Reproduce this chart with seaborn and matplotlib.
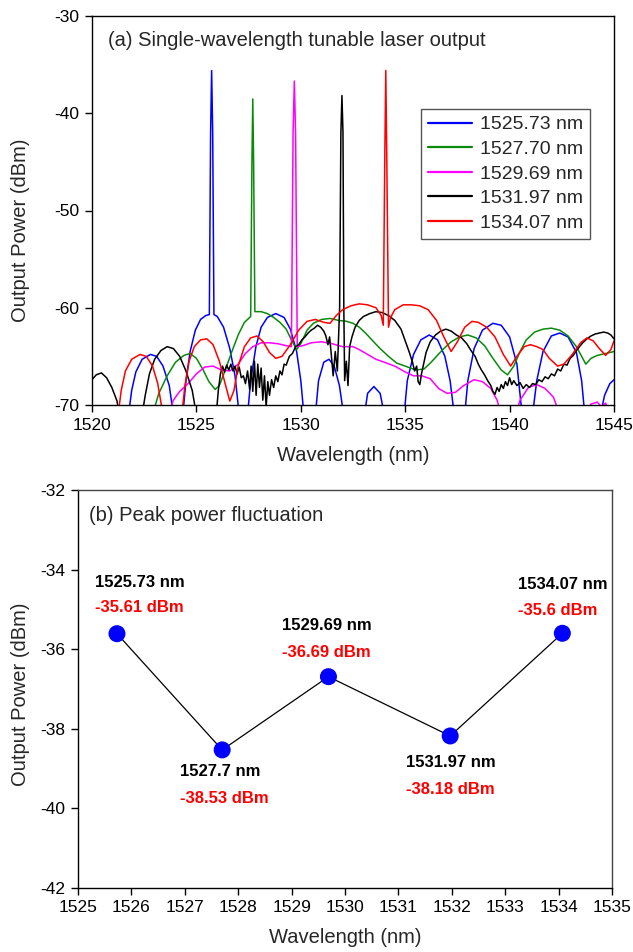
import numpy as np
import pandas as pd
import matplotlib
matplotlib.use("Agg")
import matplotlib.pyplot as plt
import seaborn as sns

# (a) spectra: (wavelength nm, power dBm); -71 = below the axis
blue_pts = [
    (1521.75, -71), (1521.9, -68.5), (1522.1, -66.6), (1522.4, -65.3), (1522.8, -64.8), (1523.1, -65.0),
    (1523.4, -66.0), (1523.7, -68.0), (1523.9, -71),
    (1524.35, -71), (1524.5, -67.5), (1524.7, -64.5), (1524.95, -62.3), (1525.2, -61.2), (1525.45, -60.8),
    (1525.62, -60.7), (1525.68, -42), (1525.73, -35.61), (1525.78, -42), (1525.84, -60.7), (1526.0, -60.9),
    (1526.3, -62.0), (1526.6, -64.2), (1526.85, -67.0), (1527.05, -71),
    (1527.45, -71), (1527.6, -67.5), (1527.85, -64.0), (1528.1, -62.0), (1528.4, -61.0), (1528.8, -60.6),
    (1529.2, -61.0), (1529.5, -62.2), (1529.8, -64.5), (1530.0, -67.5), (1530.15, -71),
    (1530.7, -71), (1530.85, -67.5), (1531.1, -65.6), (1531.35, -65.3), (1531.6, -66.0), (1531.85, -68.0),
    (1532.05, -71),
    (1533.05, -71), (1533.2, -68.8), (1533.5, -68.1), (1533.8, -68.8), (1534.0, -71),
    (1534.95, -71), (1535.1, -67.5), (1535.4, -64.8), (1535.75, -63.3), (1536.15, -62.8), (1536.55, -63.3),
    (1536.9, -65.0), (1537.15, -67.5), (1537.35, -71),
    (1537.85, -71), (1538.0, -67.5), (1538.3, -64.2), (1538.7, -62.3), (1539.2, -61.6), (1539.6, -61.8),
    (1540.0, -63.0), (1540.35, -65.8), (1540.6, -71),
    (1541.1, -71), (1541.3, -67.5), (1541.6, -64.5), (1542.0, -62.9), (1542.4, -62.6), (1542.8, -63.0),
    (1543.2, -64.6), (1543.45, -67.5), (1543.6, -71),
    (1544.35, -71), (1544.55, -69.0), (1544.8, -67.8), (1545.0, -67.4),
]
green_pts = [
    (1522.9, -71), (1523.2, -68.8), (1523.6, -67.0), (1524.0, -65.6), (1524.4, -64.9), (1524.7, -64.7),
    (1525.0, -65.2), (1525.3, -66.3), (1525.6, -67.6), (1525.9, -68.4), (1526.1, -68.0), (1526.4, -66.3),
    (1526.7, -64.5), (1527.0, -62.8), (1527.3, -61.5), (1527.6, -60.9), (1527.66, -45), (1527.7, -38.53),
    (1527.74, -45), (1527.8, -60.4), (1528.1, -60.4), (1528.4, -60.6), (1528.7, -61.0), (1529.0, -61.5),
    (1529.3, -62.2), (1529.55, -63.3), (1529.8, -64.3), (1530.0, -63.7), (1530.3, -62.3), (1530.6, -61.6),
    (1531.0, -61.2), (1531.4, -61.1), (1531.8, -61.3), (1532.2, -61.4), (1532.5, -61.6), (1532.8, -62.0),
    (1533.1, -62.6), (1533.4, -63.3), (1533.8, -64.2), (1534.2, -65.0), (1534.6, -65.7), (1535.0, -66.0),
    (1535.5, -66.4), (1535.9, -66.3), (1536.2, -65.7), (1536.5, -65.0), (1536.8, -64.3), (1537.2, -63.5),
    (1537.6, -63.0), (1538.0, -62.8), (1538.4, -63.1), (1538.8, -63.9), (1539.2, -65.2), (1539.6, -66.4),
    (1539.9, -66.9), (1540.2, -66.0), (1540.5, -64.5), (1540.8, -63.3), (1541.2, -62.5), (1541.6, -62.2),
    (1542.0, -62.1), (1542.4, -62.3), (1542.8, -62.9), (1543.2, -64.0), (1543.5, -65.2), (1543.65, -65.8),
    (1543.9, -65.2), (1544.2, -64.9), (1544.6, -64.7), (1545.0, -64.5),
]
magenta_pts = [
    (1523.65, -71), (1523.9, -69.5), (1524.2, -68.6), (1524.6, -67.8), (1525.0, -66.8), (1525.4, -66.1),
    (1525.8, -66.0), (1526.2, -66.4), (1526.6, -66.5), (1527.0, -65.8), (1527.35, -64.7), (1527.7, -64.0),
    (1528.1, -63.6), (1528.5, -63.6), (1528.9, -63.7), (1529.3, -63.9), (1529.55, -64.0), (1529.63, -42),
    (1529.69, -36.69), (1529.75, -42), (1529.83, -64.0), (1530.1, -63.9), (1530.5, -63.6), (1531.0, -63.5),
    (1531.5, -63.7), (1532.0, -64.0), (1532.5, -64.0), (1532.8, -64.3), (1533.2, -64.8), (1533.6, -65.3),
    (1534.0, -65.6), (1534.5, -66.0), (1535.0, -66.6), (1535.4, -67.0), (1535.8, -67.0), (1536.2, -67.3),
    (1536.6, -68.3), (1537.0, -68.8), (1537.4, -68.7), (1537.8, -68.0), (1538.3, -67.4), (1538.7, -67.6),
    (1539.1, -68.3), (1539.4, -69.5), (1539.6, -71),
    (1540.3, -71), (1540.5, -69.5), (1540.9, -68.2), (1541.3, -67.9), (1541.7, -68.3), (1542.1, -69.2),
    (1542.4, -71),
    (1543.7, -71), (1543.9, -69.9), (1544.2, -69.7), (1544.4, -70.2), (1544.6, -69.8), (1544.8, -71),
]
black_pts = [
    (1520.0, -67.4), (1520.2, -66.9), (1520.45, -66.7), (1520.7, -67.2), (1520.95, -68.2), (1521.2, -69.6),
    (1521.3, -71),
    (1522.4, -71), (1522.55, -69.0), (1522.75, -66.8), (1523.0, -65.3), (1523.3, -64.4), (1523.6, -64.0),
    (1523.9, -64.2), (1524.2, -65.0), (1524.5, -66.5), (1524.8, -68.5), (1525.0, -71),
    (1525.95, -71), (1526.05, -68.5), (1526.15, -66.8), (1526.25, -66.0), (1526.35, -66.6), (1526.45, -65.9),
    (1526.55, -66.4), (1526.65, -65.8), (1526.75, -66.5), (1526.85, -66.0), (1526.95, -66.8), (1527.05, -66.1),
    (1527.15, -67.2), (1527.25, -67.0), (1527.35, -67.8), (1527.45, -66.5), (1527.55, -68.4), (1527.62, -66.0),
    (1527.7, -68.6), (1527.78, -65.5), (1527.86, -69.0), (1527.94, -65.8), (1528.02, -68.2), (1528.1, -66.2),
    (1528.18, -69.5), (1528.26, -67.0), (1528.34, -70.2), (1528.42, -67.6), (1528.5, -69.0), (1528.6, -67.4),
    (1528.7, -68.2), (1528.8, -67.0), (1528.9, -67.6), (1529.0, -66.5), (1529.1, -66.9), (1529.2, -65.8),
    (1529.3, -65.9), (1529.45, -65.0), (1529.6, -64.7), (1529.75, -64.0), (1529.9, -63.8), (1530.05, -63.3),
    (1530.2, -63.0), (1530.35, -62.6), (1530.5, -62.3), (1530.65, -62.1), (1530.8, -61.8), (1530.95, -62.0),
    (1531.1, -62.4), (1531.2, -62.9), (1531.3, -63.8), (1531.38, -63.0), (1531.46, -64.8), (1531.55, -67.0),
    (1531.65, -64.5), (1531.75, -66.5), (1531.86, -60.0), (1531.92, -42), (1531.97, -38.18), (1532.02, -42),
    (1532.06, -60.0), (1532.1, -67.5), (1532.18, -65.5), (1532.26, -68.0), (1532.34, -64.0), (1532.45, -63.0),
    (1532.6, -62.0), (1532.8, -61.3), (1533.0, -60.9), (1533.3, -60.6), (1533.6, -60.4), (1533.9, -60.5),
    (1534.2, -60.8), (1534.5, -61.3), (1534.8, -62.2), (1535.0, -63.4), (1535.2, -64.6), (1535.35, -65.6),
    (1535.45, -66.5), (1535.55, -66.0), (1535.62, -67.6), (1535.7, -67.9), (1535.78, -66.8), (1535.86, -66.0),
    (1536.0, -64.6), (1536.2, -63.5), (1536.45, -62.8), (1536.7, -62.4), (1536.95, -62.2), (1537.2, -62.4),
    (1537.45, -62.8), (1537.7, -63.1), (1537.95, -63.7), (1538.15, -64.4), (1538.35, -65.0), (1538.5, -65.8),
    (1538.65, -66.4), (1538.8, -66.9), (1538.95, -67.5), (1539.1, -68.0), (1539.2, -68.6), (1539.3, -68.9),
    (1539.4, -68.2), (1539.5, -68.6), (1539.6, -67.9), (1539.7, -68.3), (1539.8, -67.6), (1539.9, -68.0),
    (1540.0, -67.2), (1540.1, -67.9), (1540.2, -67.5), (1540.35, -68.0), (1540.5, -67.7), (1540.65, -68.3),
    (1540.8, -67.9), (1540.95, -68.2), (1541.1, -67.8), (1541.25, -67.9), (1541.4, -67.4), (1541.55, -67.6),
    (1541.7, -67.1), (1541.85, -67.3), (1542.0, -66.8), (1542.15, -67.0), (1542.3, -66.3), (1542.45, -66.5),
    (1542.6, -65.8), (1542.75, -65.9), (1542.9, -65.2), (1543.05, -64.9), (1543.2, -64.4), (1543.35, -64.0),
    (1543.5, -63.6), (1543.7, -63.2), (1543.9, -62.9), (1544.1, -62.7), (1544.3, -62.6), (1544.5, -62.5),
    (1544.7, -62.6), (1544.85, -62.8), (1545.0, -63.2),
]
red_pts = [
    (1521.25, -71), (1521.4, -68.5), (1521.6, -66.5), (1521.9, -65.3), (1522.3, -64.8), (1522.6, -65.0),
    (1522.9, -66.0), (1523.15, -67.8), (1523.4, -71),
    (1524.3, -71), (1524.45, -68.0), (1524.65, -65.5), (1524.9, -64.0), (1525.2, -63.3), (1525.5, -63.2),
    (1525.8, -63.8), (1526.1, -65.5), (1526.4, -68.0), (1526.6, -69.6), (1526.8, -68.5), (1527.0, -66.0),
    (1527.3, -64.0), (1527.6, -63.1), (1527.9, -62.9), (1528.2, -63.5), (1528.5, -64.6), (1528.8, -65.2),
    (1529.1, -65.0), (1529.5, -63.8), (1529.9, -62.3), (1530.3, -61.4), (1530.7, -61.2), (1531.1, -61.5),
    (1531.4, -61.6), (1531.7, -60.8), (1532.0, -60.2), (1532.4, -59.8), (1532.8, -59.6), (1533.2, -59.7),
    (1533.6, -60.0), (1533.85, -60.8), (1533.95, -61.8), (1534.02, -45), (1534.07, -35.6), (1534.12, -45),
    (1534.2, -62.0), (1534.3, -61.0), (1534.5, -60.2), (1534.9, -59.7), (1535.3, -59.7), (1535.7, -59.8),
    (1536.1, -60.2), (1536.5, -61.3), (1536.85, -63.0), (1537.2, -64.5), (1537.5, -63.5), (1537.85, -62.0),
    (1538.2, -61.4), (1538.5, -61.5), (1538.9, -62.0), (1539.3, -63.0), (1539.7, -64.8), (1540.05, -66.0),
    (1540.35, -65.0), (1540.7, -64.0), (1541.0, -63.8), (1541.3, -64.0), (1541.6, -64.3), (1541.9, -65.2),
    (1542.3, -66.0), (1542.6, -65.8), (1543.0, -64.8), (1543.4, -63.6), (1543.7, -63.1), (1544.0, -63.4),
    (1544.3, -64.2), (1544.6, -64.9), (1544.85, -64.3), (1545.0, -63.4),
]
series_names = ["1525.73 nm", "1527.70 nm", "1529.69 nm", "1531.97 nm", "1534.07 nm"]
series_pts = [blue_pts, green_pts, magenta_pts, black_pts, red_pts]
series_colors = ["#0000ff", "#0a8a0a", "#ff00ff", "#000000", "#ff0000"]

# (b) peak power
peak_wl = [1525.73, 1527.70, 1529.69, 1531.97, 1534.07]
peak_dbm = [-35.61, -38.53, -36.69, -38.18, -35.60]
peak_wl_txt = ["1525.73 nm", "1527.7 nm", "1529.69 nm", "1531.97 nm", "1534.07 nm"]
peak_dbm_txt = ["-35.61 dBm", "-38.53 dBm", "-36.69 dBm", "-38.18 dBm", "-35.6 dBm"]

rows = []
for name, pts in zip(series_names, series_pts):
    for wl, p in pts:
        rows.append((name, wl, p))
spec = pd.DataFrame(rows, columns=["laser", "wl", "dbm"])
peaks = pd.DataFrame({"wl": peak_wl, "dbm": peak_dbm})

sns.set_theme(style="ticks")
plt.rcParams["font.family"] = ["Liberation Sans", "DejaVu Sans"]
plt.rcParams["axes.unicode_minus"] = False
plt.rcParams["axes.linewidth"] = 1.0
plt.rcParams["xtick.major.size"] = 5
plt.rcParams["ytick.major.size"] = 5
plt.rcParams["xtick.major.width"] = 1.0
plt.rcParams["ytick.major.width"] = 1.0

fig = plt.figure(figsize=(6.33, 9.52), dpi=100)
ax1 = fig.add_axes([92 / 633, 1 - 405 / 952, 522 / 633, 389 / 952])
ax2 = fig.add_axes([78 / 633, 1 - 888 / 952, 534 / 633, 398 / 952])

# ---- (a) ----
sns.lineplot(data=spec, x="wl", y="dbm", hue="laser", hue_order=series_names,
             palette=series_colors, estimator=None, sort=False, lw=1.1, ax=ax1)
ax1.set_xlim(1520, 1545)
ax1.set_ylim(-70, -30)
ax1.set_xticks([1520, 1525, 1530, 1535, 1540, 1545])
ax1.set_yticks([-70, -60, -50, -40, -30])
ax1.tick_params(labelsize=12.5, colors="black", pad=4)
ax1.set_xlabel("Wavelength (nm)", fontsize=14.5)
ax1.set_ylabel("Output Power (dBm)", fontsize=14.5)
ax1.xaxis.set_label_coords(0.5, -0.105)
ax1.yaxis.set_label_coords(-0.119, 0.45)
ax1.text(0.031, 0.938, "(a) Single-wavelength tunable laser output", transform=ax1.transAxes,
         fontsize=14.5, va="center", ha="left")
for s in ax1.spines.values():
    s.set_color("black")
leg = ax1.legend(loc="upper left", bbox_to_anchor=(0.630, 0.761), fontsize=14, frameon=True,
                 fancybox=False, framealpha=1, edgecolor="#555555", handlelength=2.3,
                 handletextpad=0.4, labelspacing=0.36, borderpad=0.35, borderaxespad=0)
leg.get_frame().set_linewidth(1.0)
for ln in leg.get_lines():
    ln.set_linewidth(1.6)

# ---- (b) ----
sns.lineplot(data=peaks, x="wl", y="dbm", color="black", lw=0.9, ax=ax2, zorder=2)
sns.scatterplot(data=peaks, x="wl", y="dbm", color="#0000ff", s=150, edgecolor="none", ax=ax2, zorder=3)
ax2.set_xlim(1525, 1535)
ax2.set_ylim(-42, -32)
ax2.set_xticks(np.arange(1525, 1536, 1))
ax2.set_yticks([-42, -40, -38, -36, -34, -32])
ax2.tick_params(labelsize=12.5, colors="black", pad=4)
ax2.set_xlabel("Wavelength (nm)", fontsize=14.5)
ax2.set_ylabel("Output Power (dBm)", fontsize=14.5)
ax2.xaxis.set_label_coords(0.5, -0.1)
ax2.yaxis.set_label_coords(-0.09, 0.487)
ax2.text(0.021, 0.937, "(b) Peak power fluctuation", transform=ax2.transAxes,
         fontsize=14.5, va="center", ha="left")
ax2.spines["left"].set_color("black")
ax2.spines["bottom"].set_color("black")
ax2.spines["top"].set_color("#444444")
ax2.spines["right"].set_color("#444444")

# label offsets in pixels from each point: (dx, dy_name, dy_value)
label_offsets = [(-22, 51, 26), (-42, -22, -49), (-46, 51, 24), (-44, -27, -54), (-44, 49, 23)]
for wl, p, t1, t2, (dx, d1, d2) in zip(peak_wl, peak_dbm, peak_wl_txt, peak_dbm_txt, label_offsets):
    ax2.annotate(t1, (wl, p), xytext=(dx, d1), textcoords="offset pixels", ha="left", va="center",
                 fontsize=12, fontweight="bold", color="black")
    ax2.annotate(t2, (wl, p), xytext=(dx, d2), textcoords="offset pixels", ha="left", va="center",
                 fontsize=12, fontweight="bold", color="#ff0000")

fig.savefig("out.png", dpi=100)
